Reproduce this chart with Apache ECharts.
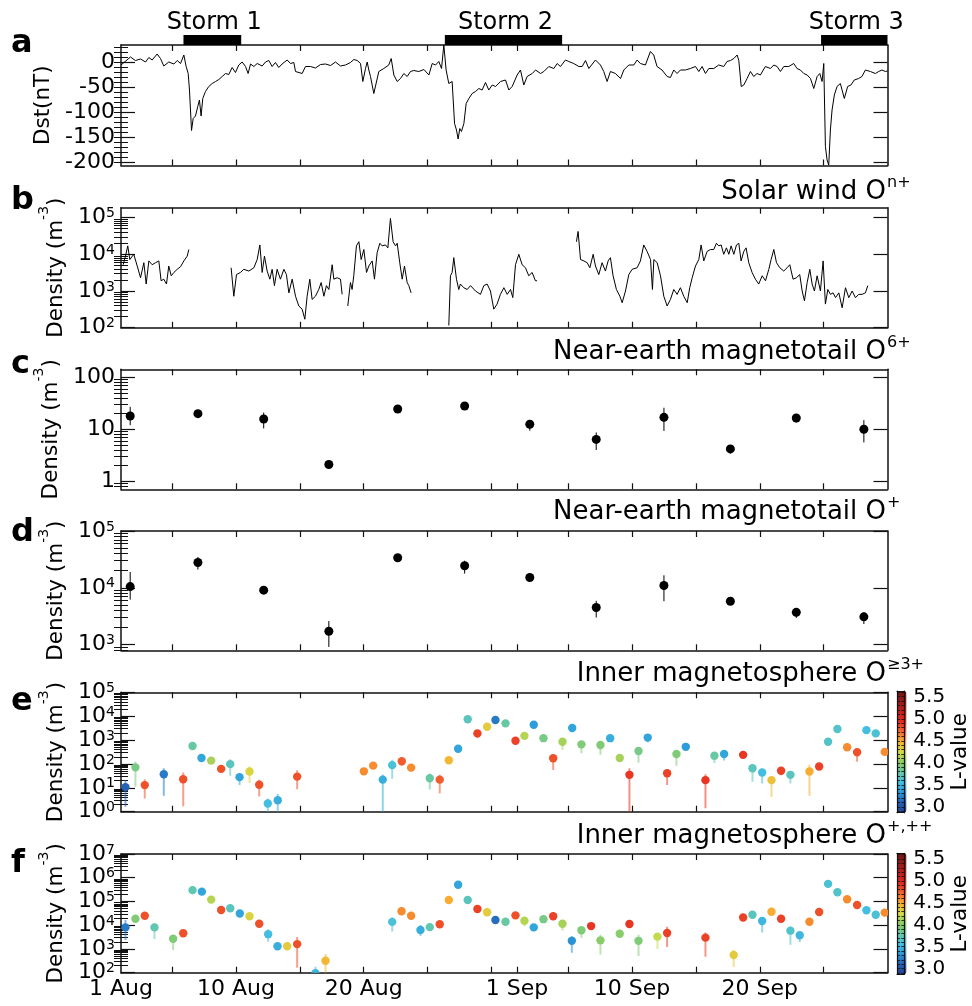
<!DOCTYPE html>
<html><head><meta charset="utf-8">
<script src="https://cdn.jsdelivr.net/npm/echarts@6/dist/echarts.min.js"></script>
<style>html,body{margin:0;padding:0;background:#fff}#c{width:972px;height:1006px}</style>
</head><body><div id="c"></div>
<script>
// ---------------- DATA ----------------
// time axis: days since 1 Aug 00:00
const xTickDays = [4, 9, 14, 19, 24, 29, 31, 35, 40, 45, 50, 55];
const xLabelDays = [0, 9, 19, 31, 40, 50];
const xLabelText = ['1 Aug', '10 Aug', '20 Aug', '1 Sep', '10 Sep', '20 Sep'];

// storms
const stormStart = [4.89, 25.35, 54.8];
const stormEnd = [9.41, 34.53, 60.0];
const stormLabel = ['Storm 1', 'Storm 2', 'Storm 3'];

// panel a: Dst (nT)
const dstTicks = [-200, -150, -100, -50, 0];
const dstDay = [0.00,0.09,0.74,1.13,1.53,1.92,2.18,2.44,2.83,3.09,3.35,3.74,4.14,4.40,4.66,4.92,5.10,5.26,5.36,5.52,5.65,5.83,6.01,6.14,6.27,6.40,6.61,6.87,7.14,7.40,7.66,7.92,8.18,8.44,8.70,8.96,9.22,9.48,9.75,9.95,10.14,10.40,10.66,11.05,11.31,11.57,11.83,12.09,12.35,12.61,13.01,13.27,13.53,13.66,14.18,14.44,14.83,15.22,15.62,16.01,16.40,16.79,17.18,17.57,17.96,18.23,18.49,18.75,18.93,19.14,19.27,19.40,19.53,19.79,20.18,20.57,20.96,21.15,21.36,21.62,21.88,22.14,22.40,22.66,22.92,23.31,23.71,24.10,24.36,24.62,24.88,25.09,25.27,25.45,25.66,25.92,26.11,26.26,26.39,26.52,26.65,26.84,27.02,27.23,27.49,27.75,28.01,28.27,28.53,28.79,29.06,29.32,29.71,30.10,30.36,30.62,31.01,31.27,31.53,31.79,32.19,32.45,32.84,33.10,33.49,33.88,34.14,34.40,34.79,35.05,35.44,35.84,36.10,36.36,36.62,37.14,37.53,37.79,38.05,38.31,38.70,39.10,39.36,39.75,40.14,40.40,40.66,41.05,41.44,41.70,41.96,42.35,42.75,43.01,43.27,43.53,43.79,44.18,44.57,44.97,45.23,45.49,45.75,46.01,46.40,46.79,47.18,47.44,47.71,47.97,48.23,48.36,48.55,48.75,49.01,49.27,49.53,49.79,50.05,50.44,50.84,51.10,51.36,51.62,51.88,52.27,52.66,52.92,53.18,53.45,53.71,53.97,54.23,54.49,54.70,54.88,55.01,55.14,55.27,55.40,55.53,55.66,55.84,56.05,56.31,56.62,56.88,57.14,57.40,57.74,58.00,58.27,58.66,59.05,59.31,59.57,59.83,60.00];
const dstValue = [-6,-3,10,3,6,0,9,4,16,7,-8,0,-4,3,-3,14,-9,-23,-56,-137,-113,-108,-89,-76,-108,-73,-59,-49,-43,-39,-35,-29,-23,-25,-11,-21,-6,0,-9,-23,-4,-9,-3,-8,0,3,-9,-1,-11,-4,4,-3,-1,-19,-23,-9,-9,-12,-5,-4,-7,0,-8,-6,-1,5,3,-3,-39,-13,0,-16,-29,-63,-19,-13,-6,7,-26,-39,-33,-23,-29,-19,-17,-19,-15,-26,-3,-6,1,-13,34,-16,-43,-39,-123,-136,-154,-133,-139,-123,-83,-73,-63,-59,-53,-56,-41,-56,-46,-49,-39,-36,-56,-49,-26,-16,-46,-29,-23,-16,-23,-19,-9,-13,-3,-9,4,1,-3,-9,-9,3,-13,4,-6,-19,-39,-19,-23,-33,-16,-6,-6,4,-3,-6,21,14,-9,-16,-29,-31,-16,-23,-16,-16,-13,-9,-19,-9,-23,-13,-13,-6,-9,1,3,7,14,3,-49,-46,-33,-19,-29,-23,-26,-9,-13,-6,-9,-19,-9,-9,-3,-13,-16,-23,-26,-33,-53,-29,-23,-39,-3,-169,-196,-206,-136,-96,-66,-49,-43,-73,-49,-46,-36,-33,-29,-16,-19,-23,-19,-16,-19,-18];

// panel b: solar wind O density (m^-3); null = data gap
const swDay = [0.17,0.35,0.53,0.69,1.00,1.27,1.53,1.79,1.97,2.18,2.44,2.70,2.96,3.14,3.35,3.56,3.74,3.93,4.14,4.40,4.66,4.92,5.18,5.31,null,
8.62,8.83,9.04,9.35,9.61,10.01,10.40,10.66,10.87,11.05,11.23,11.44,11.65,11.83,12.01,12.22,12.48,12.75,12.95,13.14,13.40,13.66,13.92,14.18,14.39,14.57,14.78,14.96,15.22,15.48,15.67,15.88,16.08,16.27,16.53,16.66,16.92,17.18,17.31,null,
17.75,17.96,18.09,18.22,18.43,18.62,18.80,19.01,19.22,19.40,19.66,19.84,20.05,20.26,20.44,20.70,20.89,21.09,21.30,21.49,21.62,21.82,22.01,22.19,22.40,22.53,22.71,null,
25.66,25.79,25.92,26.05,26.26,26.44,26.57,26.83,27.10,27.36,27.75,28.14,28.40,28.66,28.92,29.18,29.44,29.70,29.97,30.23,30.49,30.67,30.88,31.14,31.40,31.66,31.92,32.18,32.44,32.57,null,
35.65,35.78,35.97,36.23,36.49,36.70,36.96,37.14,37.40,37.66,37.92,38.13,38.31,38.52,38.78,39.05,39.23,39.49,39.75,40.01,40.40,40.66,40.92,41.18,41.45,41.60,41.71,41.97,42.23,42.49,42.75,43.01,43.27,43.53,43.79,44.05,44.32,44.52,44.71,44.97,45.23,45.41,45.62,45.88,46.14,46.40,46.61,46.79,46.98,47.18,47.39,47.58,47.76,47.97,48.18,48.36,48.54,48.75,48.93,49.14,49.40,49.66,49.92,50.19,50.45,50.71,50.89,51.10,51.31,51.57,51.88,52.14,52.35,52.61,52.87,53.13,53.32,53.50,53.71,53.92,54.10,54.28,54.49,54.75,54.96,55.14,55.33,55.53,55.74,55.93,56.19,56.45,56.71,56.97,57.23,57.49,57.75,58.01,58.27,58.46];
const swDensity = [5200,8900,17000,7200,10000,4800,2300,5900,1550,6600,5200,5900,6600,1900,2100,1550,4800,2600,3200,3900,4600,6600,8900,13500,null,
4300,720,2800,3200,3900,3500,4300,7200,18000,3200,8900,3500,2100,3900,1400,3900,2100,3900,2800,890,2100,720,390,320,170,720,2100,590,720,1100,1700,720,1400,1100,5200,2100,2300,2100,810,null,
390,1700,1100,2600,17000,22000,7200,13500,3200,4800,6600,2100,11000,20000,17000,18000,15000,95000,22000,17000,20000,5900,2100,4800,1700,1400,890,null,
115,2600,3200,8100,2100,1100,1550,1230,1100,1400,1000,810,1400,1550,1000,320,440,810,1230,810,1100,660,5200,10000,5200,4300,2600,3200,1900,1900,null,
22000,42000,7200,6600,5900,4300,10000,4800,2800,5900,3500,6600,8100,2600,1100,720,480,1000,2800,3900,4300,6600,18000,12000,7200,1100,7200,5900,2600,720,390,590,1100,810,1230,720,480,1230,2300,4800,7200,18000,6600,12000,13500,13500,20000,17000,18000,10000,15000,10000,17000,10000,18000,20000,6600,12000,15000,5900,3200,2100,1550,2600,1900,3900,7200,13500,5900,4300,3500,4300,5200,2100,2300,2800,1000,540,1700,3900,1550,1000,2600,1000,6600,440,1100,810,890,660,890,350,1230,660,1000,660,810,810,890,1400];

// panel c: near-earth magnetotail O6+ (m^-3)
const cDay = [0.72,6.02,11.17,16.27,21.66,26.90,32.00,37.20,42.50,47.70,52.86,58.15];
const cValue = [18,20,15.8,2.1,24.6,28,12.5,6.4,17,4.2,16.5,10];
const cLow = [12,18,10.4,1.9,21,24,9.4,4.0,9.3,3.4,13.5,5.6];
const cHigh = [27,22.5,21,2.3,28,32,15,8.7,26,4.9,19.5,15];

// panel d: near-earth magnetotail O+ (m^-3)
const dDay = cDay;
const dValue = [10500,27900,9100,1720,33800,24400,15200,4500,11000,5800,3700,3080];
const dLow = [6200,21000,8000,910,30000,17800,13500,3000,5800,5100,2950,2300];
const dHigh = [19000,35000,10300,2600,37000,30000,17000,5900,16600,6500,4400,3700];

// panel e: inner magnetosphere O>=3+ (m^-3), with L-value
const eDay = [0.35,1.13,1.86,3.35,4.87,5.60,6.30,7.06,7.84,8.55,9.28,10.06,10.82,11.49,12.27,13.79,19.01,19.74,20.49,21.23,21.98,22.71,24.17,24.95,25.66,26.39,27.14,27.90,28.66,29.31,30.10,30.88,31.58,32.31,33.07,33.83,34.56,35.32,36.04,37.53,38.29,39.04,39.80,40.51,41.23,42.75,43.48,44.21,45.75,46.45,47.21,48.70,49.43,50.19,50.92,51.67,52.40,53.89,54.65,55.35,56.08,56.84,57.62,58.35,59.08,59.78];
const eValue = [10.7,72,13,37,23,560,178,138,62,98,28,48,13.5,2.2,3.0,29.5,49,85,22,89,130,70,25,22,142,430,7400,1900,3600,6900,5000,940,1500,4400,1200,174,850,3200,660,620,1200,178,35,350,1270,41,260,520,21,220,260,240,66,44,21,52,35,48,78,850,2900,500,310,2600,1900,320];
const eLow = [1.6,11,3.6,4.6,1.7,470,150,115,45,32,13,16,4.3,0.9,0.9,8.7,35,70,0.9,24,85,50,8.5,5.8,120,370,6500,1200,2600,6000,4400,700,1000,3800,1050,56,390,2400,280,240,850,130,0.9,112,800,13,83,400,1.4,110,140,200,18,15,4.1,34,15,4.6,60,720,2500,380,125,2200,1600,260];
const eHigh = [21,126,23,66,44,650,210,165,75,158,35,78,22,3.6,5.5,55,60,100,36,150,160,85,40,35,160,500,8400,2300,4000,7800,5600,1100,1700,5000,1350,220,1000,3600,800,750,1400,210,66,430,1500,60,330,620,37,260,300,280,90,60,30,70,48,92,95,1000,3300,600,380,3000,2200,380];
const eLvalue = [3.1,3.9,4.8,3.2,4.8,3.8,3.4,4.1,4.8,3.7,3.4,4.3,4.8,3.55,3.45,4.8,4.6,4.6,3.45,3.6,4.75,4.6,3.8,4.75,4.45,3.4,3.7,4.85,4.35,3.2,3.8,4.85,4.15,3.35,3.9,4.8,4.1,3.4,3.95,3.95,3.45,4.1,4.9,3.9,3.4,4.85,3.95,3.35,4.9,3.8,3.4,4.9,3.7,3.55,4.4,4.85,3.7,4.5,4.85,3.65,3.65,4.6,4.8,3.55,3.6,4.6];

// panel f: inner magnetosphere O+,++ (m^-3), with L-value
const fDay = [0.35,1.13,1.86,2.62,4.08,4.87,5.60,6.33,7.06,7.84,8.55,9.30,10.06,10.82,11.52,12.25,13.01,13.79,15.22,16.01,21.23,21.96,22.71,23.44,24.17,24.95,25.66,26.39,27.14,27.90,28.66,29.31,30.10,30.88,31.58,32.31,33.07,33.83,34.56,35.29,36.04,36.80,37.53,39.04,39.80,40.51,41.99,42.75,45.75,47.96,48.70,49.43,50.19,50.92,51.67,52.40,53.13,53.89,54.65,55.35,56.08,56.84,57.62,58.35,59.08,59.78];
const fValue = [8100,18600,25000,8100,2700,4600,300000,260000,120000,44000,52000,31000,24000,11500,4200,1300,1300,1600,95,320,13800,39000,25000,6300,8300,11000,116000,510000,116000,48000,35000,16700,14000,26000,15500,8100,18000,24000,11500,2200,6100,9200,2300,4400,11200,2200,3300,4700,3000,560,21000,27500,15000,37000,18700,5900,3800,14000,36000,550000,245000,124000,71000,43000,27500,34000];
const fLow = [2400,16000,22000,2600,900,3800,270000,235000,105000,38000,45000,27000,21000,9500,2000,1050,1050,160,40,100,5400,34000,21000,3500,7200,9500,100000,450000,100000,42000,30000,14500,12000,22500,9000,7000,15500,21000,6000,700,3000,7800,580,3300,9800,500,1000,1200,470,175,18000,24000,4900,32000,16000,1500,1900,12000,31000,490000,215000,108000,62000,37500,24000,29500];
const fHigh = [16600,21500,28500,12000,3600,5600,340000,290000,136000,50000,60000,35000,27000,14000,6800,1500,1500,3200,180,620,21000,44000,29000,10200,9500,12500,132000,570000,132000,54000,40000,19000,16000,29500,17500,9300,20500,27000,13500,3500,8000,10500,4000,5000,12800,4000,4600,8700,4900,910,24000,31000,17500,42000,21500,8700,5000,16000,41000,620000,275000,140000,80000,49000,31000,39000];
const fLvalue = [3.2,3.95,4.8,3.75,3.95,4.8,3.75,3.4,4.15,4.8,3.7,3.4,4.3,4.8,3.55,3.45,4.35,4.8,3.5,4.45,3.6,4.6,4.6,3.45,3.75,4.8,4.5,3.4,3.7,4.85,4.35,3.15,3.8,4.8,4.15,3.4,3.9,4.85,4.1,3.3,3.95,4.9,4.0,4.0,4.9,3.95,4.2,4.85,4.85,4.35,4.85,3.7,3.5,4.5,4.85,3.65,3.5,4.6,4.8,3.6,3.65,4.6,4.8,3.55,3.6,4.6];

// colour bar (L-value)
const lValueTicks = [3.0, 3.5, 4.0, 4.5, 5.0, 5.5];
const lValueRange = [2.87, 5.63];
const lColors = ['#26418f','#2462b5','#2a9ad9','#45c0e0','#66c8a6','#8dcc64','#d4dc45','#f8b232','#f4682e','#e52a22','#c21f1f','#941a1c','#6e1717'];

// ---------------- BUILD ----------------
const FONT = 'DejaVu Sans';
const INK = '#111';
const lg = v => Math.log10(v);
function rangeStep(a, b, s) { const o = []; for (let v = a; v <= b + 1e-9; v += s) o.push(+v.toFixed(6)); return o; }
function majorLog(lo, hi) { const o = []; for (let n = Math.ceil(lo - 1e-9); n <= hi + 1e-9; n++) o.push(n); return o; }
function minorLog(lo, hi) {
  const o = [];
  for (let n = Math.floor(lo) - 1; n <= Math.ceil(hi); n++)
    for (let k = 2; k <= 9; k++) { const v = n + Math.log10(k); if (v >= lo - 1e-9 && v <= hi + 1e-9) o.push(v); }
  return o;
}
// tick-label rich styles (compact boxes so that neighbouring labels are not auto-hidden)
const tickRich = {
  b: { fontFamily: FONT, fontSize: 22, lineHeight: 22, verticalAlign: 'bottom', color: '#000' },
  s: { fontFamily: FONT, fontSize: 14, lineHeight: 8, verticalAlign: 'top', color: '#000' }
};
const nameRich = {
  n: { fontFamily: FONT, fontSize: 21.5, lineHeight: 30, verticalAlign: 'bottom', color: '#000' },
  s: { fontFamily: FONT, fontSize: 14, lineHeight: 14, verticalAlign: 'top', color: '#000' }
};
const powFmt = v => '{b|10}{s|' + Math.round(v) + '}';
const plainPowFmt = v => '{b|' + Math.round(Math.pow(10, v)) + '}';
const densName = '{n|Density (m}{s|-3}{n|)}';

const panels = [
  { top: 45, height: 120.5, min: -207, max: 34, major: dstTicks, minor: rangeStep(-200, 30, 10), fmt: v => '{b|' + v + '}', name: '{n|Dst(nT)}', letter: 'a', letterY: 44 },
  { top: 207.7, height: 120, min: 2, max: 5.27, fmt: powFmt, name: densName, letter: 'b', letterY: 201 },
  { top: 369.3, height: 120, min: -0.154, max: 2.154, fmt: plainPowFmt, name: densName, letter: 'c', letterY: 365 },
  { top: 531, height: 119.3, min: 2.9, max: 5, fmt: powFmt, name: densName, letter: 'd', letterY: 533 },
  { top: 692.3, height: 119.4, min: 0, max: 5, fmt: powFmt, name: densName, letter: 'e', letterY: 702 },
  { top: 854, height: 118.7, min: 2, max: 7, fmt: powFmt, name: densName, letter: 'f', letterY: 864 }
];
panels.forEach((p, i) => { if (i > 0) { p.major = majorLog(p.min, p.max); p.minor = minorLog(p.min, p.max); } });

const titles = [
  { text: 'Solar wind O', sup: 'n+', base: 201 },
  { text: 'Near-earth magnetotail O', sup: '6+', base: 361 },
  { text: 'Near-earth magnetotail O', sup: '+', base: 521 },
  { text: 'Inner magnetosphere O', sup: '\u22653+', base: 683 },
  { text: 'Inner magnetosphere O', sup: '+,++', base: 845 }
];

const xFmt = v => { const k = xLabelDays.findIndex(d => Math.abs(d - v) < 1e-6); return k >= 0 ? xLabelText[k] : ''; };
const lineSt = { color: INK, width: 1.5 };
const grids = [], xAxes = [], yAxes = [];
panels.forEach((p, i) => {
  grids.push({ left: 121, width: 766.5, top: p.top, height: p.height });
  const xb = { gridIndex: i, type: 'value', min: 0, max: 60, splitLine: { show: false } };
  xAxes.push(Object.assign({}, xb, { position: 'bottom',
    axisLine: { show: true, onZero: false, lineStyle: lineSt },
    axisTick: { show: true, inside: true, length: 6, customValues: xTickDays, lineStyle: { color: INK, width: 1.2 } },
    axisLabel: { show: i === 5, customValues: xLabelDays, formatter: xFmt, fontFamily: FONT, fontSize: 22, color: '#000', margin: 6, showMinLabel: true, showMaxLabel: true, hideOverlap: false } }));
  xAxes.push(Object.assign({}, xb, { position: 'top',
    axisLine: { show: true, onZero: false, lineStyle: lineSt },
    axisTick: { show: true, inside: true, length: 6, customValues: xTickDays, lineStyle: { color: INK, width: 1.2 } },
    axisLabel: { show: false } }));
  const yb = { gridIndex: i, type: 'value', min: p.min, max: p.max, splitLine: { show: false } };
  yAxes.push(Object.assign({}, yb, { position: 'left',
    axisLine: { show: true, onZero: false, lineStyle: lineSt },
    axisTick: { show: true, inside: true, length: 14, customValues: p.major, lineStyle: { color: INK, width: 1.2 } },
    axisLabel: { show: true, customValues: p.major, formatter: p.fmt, rich: tickRich, margin: 6, hideOverlap: false },
    name: p.name, nameLocation: 'middle', nameGap: 52, nameRotate: 90, nameTextStyle: { rich: nameRich } }));
  yAxes.push(Object.assign({}, yb, { position: 'left', axisLine: { show: false },
    axisTick: { show: true, inside: true, length: 7, customValues: p.minor, lineStyle: { color: INK, width: 1 } },
    axisLabel: { show: false } }));
  yAxes.push(Object.assign({}, yb, { position: 'right',
    axisLine: { show: true, onZero: false, lineStyle: lineSt },
    axisTick: { show: true, inside: true, length: 14, customValues: p.major, lineStyle: { color: INK, width: 1.2 } },
    axisLabel: { show: false } }));
  yAxes.push(Object.assign({}, yb, { position: 'right', axisLine: { show: false },
    axisTick: { show: true, inside: true, length: 7, customValues: p.minor, lineStyle: { color: INK, width: 1 } },
    axisLabel: { show: false } }));
});

// colour bar frames (grids 6 and 7)
const cbTops = [[691, 121.7], [853.3, 121]];
cbTops.forEach((t, j) => {
  const gi = 6 + j;
  grids.push({ left: 897, width: 9.5, top: t[0], height: t[1] });
  xAxes.push({ gridIndex: gi, type: 'value', min: 0, max: 1, position: 'bottom', z: 10, axisLine: { show: true, onZero: false, lineStyle: { color: INK, width: 1.2 } }, axisTick: { show: false }, axisLabel: { show: false }, splitLine: { show: false } });
  xAxes.push({ gridIndex: gi, type: 'value', min: 0, max: 1, position: 'top', z: 10, axisLine: { show: true, onZero: false, lineStyle: { color: INK, width: 1.2 } }, axisTick: { show: false }, axisLabel: { show: false }, splitLine: { show: false } });
  yAxes.push({ gridIndex: gi, type: 'value', min: lValueRange[0], max: lValueRange[1], position: 'right', z: 10,
    axisLine: { show: true, onZero: false, lineStyle: { color: INK, width: 1.2 } },
    axisTick: { show: true, inside: true, length: 3, customValues: rangeStep(2.9, 5.6, 0.1), lineStyle: { color: INK, width: 0.8 } },
    axisLabel: { show: true, customValues: lValueTicks, formatter: v => v.toFixed(1), fontFamily: FONT, fontSize: 20, color: '#000', margin: 9, showMinLabel: true, showMaxLabel: true, hideOverlap: false },
    splitLine: { show: false },
    name: 'L-value', nameLocation: 'middle', nameGap: 44, nameRotate: 90, nameTextStyle: { fontFamily: FONT, fontSize: 21.5, color: '#000' } });
  yAxes.push({ gridIndex: gi, type: 'value', min: lValueRange[0], max: lValueRange[1], position: 'left', z: 10,
    axisLine: { show: true, onZero: false, lineStyle: { color: INK, width: 1.2 } },
    axisTick: { show: true, inside: true, length: 3, customValues: rangeStep(2.9, 5.6, 0.1), lineStyle: { color: INK, width: 0.8 } },
    axisLabel: { show: false }, splitLine: { show: false } });
});

function errRender(o) {
  return function (params, api) {
    const x = api.value(0);
    const p = api.coord([x, api.value(1)]);
    const pl = api.coord([x, api.value(2)]);
    const ph = api.coord([x, api.value(3)]);
    const col = o.color || api.visual('color');
    return { type: 'group', children: [
      { type: 'line', shape: { x1: p[0], y1: pl[1], x2: p[0], y2: ph[1] }, style: { stroke: col, lineWidth: o.lw, opacity: o.eo } },
      { type: 'circle', shape: { cx: p[0], cy: p[1], r: o.r }, style: { fill: col } }
    ] };
  };
}
const zipErr = (d, v, l, h, L) => d.map((x, k) => L ? [x, lg(v[k]), lg(l[k]), lg(h[k]), L[k]] : [x, lg(v[k]), lg(l[k]), lg(h[k])]);

const series = [
  { type: 'line', xAxisIndex: 0, yAxisIndex: 0, data: dstDay.map((d, k) => [d, dstValue[k]]), showSymbol: false, symbol: 'none', lineStyle: { color: '#000', width: 1 }, silent: true },
  { type: 'custom', xAxisIndex: 0, yAxisIndex: 0, clip: false, silent: true,
    data: stormStart.map((s, k) => [s, stormEnd[k]]),
    renderItem: function (params, api) {
      const a = api.coord([api.value(0), panels[0].max]);
      const b = api.coord([api.value(1), panels[0].max]);
      return { type: 'group', children: [
        { type: 'rect', shape: { x: a[0], y: a[1] - 10, width: b[0] - a[0], height: 10 }, style: { fill: '#000' } },
        { type: 'text', x: (a[0] + b[0]) / 2 + 2, y: a[1] - 22, style: { text: stormLabel[params.dataIndex], fill: '#000', font: '24px "DejaVu Sans"', align: 'center', verticalAlign: 'middle' } }
      ] };
    } },
  { type: 'line', xAxisIndex: 2, yAxisIndex: 4, data: swDay.map((d, k) => swDensity[k] == null ? ['-', '-'] : [d, lg(swDensity[k])]), connectNulls: false, showSymbol: false, symbol: 'none', lineStyle: { color: '#000', width: 1 }, silent: true },
  { type: 'custom', xAxisIndex: 4, yAxisIndex: 8, clip: true, silent: true, data: zipErr(cDay, cValue, cLow, cHigh), renderItem: errRender({ color: '#000', lw: 1, eo: 1, r: 4.5 }) },
  { type: 'custom', xAxisIndex: 6, yAxisIndex: 12, clip: true, silent: true, data: zipErr(dDay, dValue, dLow, dHigh), renderItem: errRender({ color: '#000', lw: 1, eo: 1, r: 4.5 }) },
  { type: 'custom', xAxisIndex: 8, yAxisIndex: 16, clip: true, silent: true, dimensions: ['day', 'v', 'lo', 'hi', 'L'], encode: { x: 0, y: 1 }, data: zipErr(eDay, eValue, eLow, eHigh, eLvalue), renderItem: errRender({ lw: 2, eo: 0.55, r: 4.2 }) },
  { type: 'custom', xAxisIndex: 10, yAxisIndex: 20, clip: true, silent: true, dimensions: ['day', 'v', 'lo', 'hi', 'L'], encode: { x: 0, y: 1 }, data: zipErr(fDay, fValue, fLow, fHigh, fLvalue), renderItem: errRender({ lw: 2, eo: 0.55, r: 4.2 }) }
];

const vmBase = { type: 'continuous', dimension: 4, min: lValueRange[0], max: lValueRange[1], inRange: { color: lColors }, orient: 'vertical', itemWidth: 9.5, calculable: false, hoverLink: false, padding: 0, text: null, left: 897 };
const visualMap = [
  Object.assign({}, vmBase, { seriesIndex: 5, top: 691, itemHeight: 121.7 }),
  Object.assign({}, vmBase, { seriesIndex: 6, top: 853.3, itemHeight: 121 })
];

const graphic = [];
panels.forEach(p => graphic.push({ type: 'text', x: 11, y: p.letterY, style: { text: p.letter, fill: '#000', font: 'bold 32px "DejaVu Sans"', align: 'left', verticalAlign: 'middle' } }));
titles.forEach(t => {
  graphic.push({ type: 'text', x: 886, y: t.base - 9, style: { text: t.text, fill: '#000', font: '26px "DejaVu Sans"', align: 'right', verticalAlign: 'middle' } });
  graphic.push({ type: 'text', x: 887, y: t.base - 26, style: { text: t.sup, fill: '#000', font: '16px "DejaVu Sans"', align: 'left', verticalAlign: 'top' } });
});

const chart = echarts.init(document.getElementById('c'), null, { renderer: 'canvas' });
chart.setOption({
  animation: false,
  backgroundColor: '#fff',
  textStyle: { fontFamily: FONT },
  grid: grids, xAxis: xAxes, yAxis: yAxes,
  visualMap: visualMap,
  series: series,
  graphic: graphic
});
</script></body></html>
